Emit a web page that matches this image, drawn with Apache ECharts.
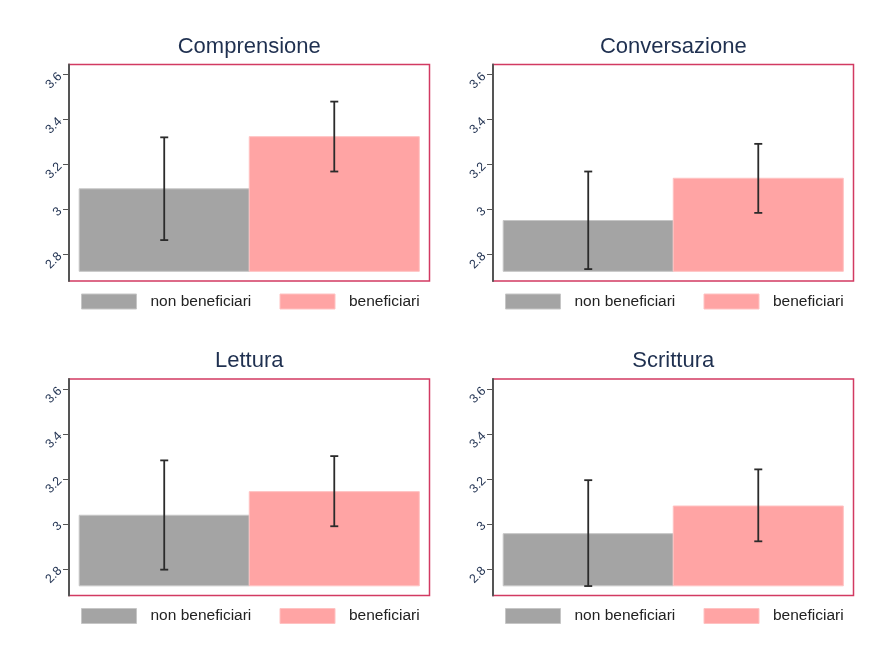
<!DOCTYPE html>
<html>
<head>
<meta charset="utf-8">
<title>beneficiari vs non beneficiari</title>
<script src="https://cdn.jsdelivr.net/npm/echarts@6.0.0/dist/echarts.min.js"></script>
<style>
  html, body { margin: 0; padding: 0; background: #fff; }
  #chart { width: 872px; height: 661px; }
</style>
</head>
<body>
<div id="chart"></div>
<script>
// dati
const panels = ['Comprensione', 'Conversazione', 'Lettura', 'Scrittura'];
const groups = ['non beneficiari', 'beneficiari'];
const nonBenef = [3.092, 2.951, 3.039, 2.957];
const benef = [3.324, 3.139, 3.144, 3.080];
const nonBenefLo = [2.864, 2.735, 2.797, 2.724];
const nonBenefHi = [3.321, 3.169, 3.283, 3.195];
const benefLo = [3.169, 2.985, 2.990, 2.923];
const benefHi = [3.480, 3.292, 3.302, 3.243];
const yTicks = [2.8, 3.0, 3.2, 3.4, 3.6];
const baseline = 2.725;

const colors = ['#a4a4a4', '#ffa4a4'];
const edgeColors = ['#c6c6c6', '#ffc2c2'];
const navy = '#1f3050';

// posizione dei pannelli (2 x 2)
const lefts = [69, 493, 69, 493];
const tops = [64.5, 64.5, 379, 379];
const gridW = 360.5;
const gridH = 216.5;

const chart = echarts.init(document.getElementById('chart'));

function renderBar(params, api) {
  const i = api.value(0);
  const p0 = api.coord([i - 0.5, baseline]);
  const p1 = api.coord([i + 0.5, api.value(1)]);
  return {
    type: 'rect',
    shape: { x: p0[0], y: p1[1], width: p1[0] - p0[0], height: p0[1] - p1[1] },
    style: { fill: api.visual('color'), stroke: edgeColors[i], lineWidth: 1 }
  };
}

function renderErr(params, api) {
  const i = api.value(0);
  const lo = api.coord([i, api.value(1)]);
  const hi = api.coord([i, api.value(2)]);
  const cap = 4;
  const st = { stroke: '#2b2b2b', lineWidth: 1.8 };
  return {
    type: 'group',
    children: [
      { type: 'line', shape: { x1: lo[0], y1: lo[1], x2: hi[0], y2: hi[1] }, style: st },
      { type: 'line', shape: { x1: hi[0] - cap, y1: hi[1], x2: hi[0] + cap, y2: hi[1] }, style: st },
      { type: 'line', shape: { x1: lo[0] - cap, y1: lo[1], x2: lo[0] + cap, y2: lo[1] }, style: st }
    ]
  };
}

const grid = [], xAxis = [], yAxis = [], series = [], title = [], legend = [];

panels.forEach((name, k) => {
  grid.push({
    left: lefts[k], top: tops[k], width: gridW, height: gridH,
    show: true, borderColor: '#d23a62', borderWidth: 1.5, backgroundColor: '#fff'
  });
  xAxis.push({ gridIndex: k, type: 'value', min: -0.56, max: 1.56, show: false });
  yAxis.push({
    gridIndex: k, type: 'value', min: 2.682, max: 3.645, position: 'left',
    axisLine: { show: true, onZero: false, lineStyle: { color: '#555', width: 2 } },
    axisTick: { show: true, length: 6, customValues: yTicks, lineStyle: { color: '#555', width: 1 } },
    axisLabel: {
      customValues: yTicks, rotate: 45, margin: 9,
      color: navy, fontSize: 12.5, fontFamily: 'Liberation Sans',
      formatter: v => String(Math.round(v * 10) / 10)
    },
    splitLine: { show: false }
  });
  title.push({
    text: name, left: lefts[k] + gridW / 2, top: tops[k] - 29, textAlign: 'center', padding: 0,
    textStyle: { color: navy, fontSize: 22, fontWeight: 'normal', fontFamily: 'Liberation Sans' }
  });

  series.push({
    name: groups[0], type: 'custom', xAxisIndex: k, yAxisIndex: k,
    itemStyle: { color: colors[0] }, renderItem: renderBar,
    data: [[0, nonBenef[k]]]
  });
  series.push({
    name: groups[1], type: 'custom', xAxisIndex: k, yAxisIndex: k,
    itemStyle: { color: colors[1] }, renderItem: renderBar,
    data: [[1, benef[k]]]
  });
  series.push({
    name: 'ci', type: 'custom', xAxisIndex: k, yAxisIndex: k, z: 5,
    renderItem: renderErr,
    data: [[0, nonBenefLo[k], nonBenefHi[k]], [1, benefLo[k], benefHi[k]]]
  });

  // legenda sotto ogni pannello
  [12, 210.5].forEach((dx, g) => {
    legend.push({
      data: [groups[g]], left: lefts[k] + dx, top: tops[k] + gridH + 12.5,
      padding: 0, icon: 'rect', itemWidth: 55, itemHeight: 15, selectedMode: false,
      itemStyle: { borderColor: edgeColors[g], borderWidth: 1 },
      textStyle: { color: '#222', fontSize: 15.5, fontFamily: 'Liberation Sans', padding: [0, 0, 0, 9] }
    });
  });
});

chart.setOption({
  backgroundColor: '#fff',
  animation: false,
  title: title,
  legend: legend,
  grid: grid,
  xAxis: xAxis,
  yAxis: yAxis,
  series: series
});
</script>
</body>
</html>
